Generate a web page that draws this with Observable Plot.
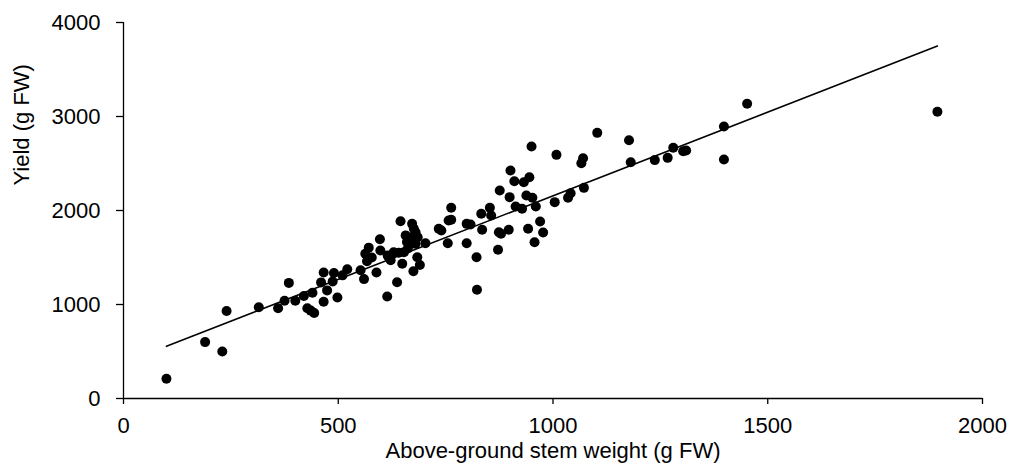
<!DOCTYPE html>
<html>
<head>
<meta charset="utf-8">
<script src="https://cdn.jsdelivr.net/npm/d3@7"></script>
<script src="https://cdn.jsdelivr.net/npm/@observablehq/plot@0.6"></script>
<style>
  html, body { margin: 0; padding: 0; background: #fff; }
  #chart svg { display: block; }
</style>
</head>
<body>
<div id="chart"></div>
<script>
// Above-ground stem weight (g FW) of each plant
const stemWeight = [
  100, 190, 230, 240, 315, 360, 375, 385, 400, 420,
  428, 436, 444, 440, 466, 460, 474, 466, 490, 487,
  498, 510, 521, 552, 560, 563, 567, 571, 578, 589,
  597, 598, 615, 622, 614, 637, 629, 641, 653, 662,
  645, 649, 657, 660, 672, 680, 672, 676, 680, 685,
  684, 690, 675, 703, 734, 740, 755, 757, 763, 763,
  799, 808, 799, 822, 823, 833, 835, 853, 856, 872,
  874, 879, 876, 897, 899, 901, 910, 913, 928, 932,
  945, 938, 952, 942, 957, 960, 970, 977, 1004, 1008,
  1035, 1041, 1066, 1070, 1072, 1103, 1177, 1181, 1237, 1267,
  1280, 1303, 1310, 1398, 1398, 1452, 1895, 950
];

// Yield (g FW) of the same plants
const yieldFW = [
  210, 600, 500, 930, 970, 960, 1040, 1230, 1040, 1090,
  960, 935, 910, 1125, 1030, 1235, 1150, 1340, 1335, 1245,
  1075, 1310, 1375, 1365, 1270, 1540, 1460, 1605, 1500, 1340,
  1695, 1575, 1520, 1470, 1085, 1236, 1555, 1550, 1555, 1595,
  1885, 1433, 1735, 1665, 1716, 1645, 1858, 1805, 1769, 1716,
  1503, 1420, 1354, 1652, 1805, 1787, 1652, 1894, 1901, 2029,
  1858, 1851, 1652, 1503, 1156, 1965, 1795, 2029, 1947, 1582,
  1769, 1752, 2213, 1795, 2142, 2426, 2312, 2043, 2018, 2301,
  2354, 2160, 2135, 1805, 1663, 2043, 1883, 1766, 2089, 2592,
  2135, 2184, 2503, 2556, 2241, 2826, 2748, 2514, 2536, 2560,
  2667, 2631, 2638, 2894, 2543, 3135, 3050, 2680
];

// Linear trend line: [intercept, slope] and the stem-weight span it covers
const trendCoef = [377, 1.78];
const trendSpan = [100, 1895];

const xTicks = [0, 500, 1000, 1500, 2000];
const yTicks = [0, 1000, 2000, 3000, 4000];

const points = stemWeight.map((w, i) => ({w, y: yieldFW[i]}));
const trend = trendSpan.map(w => ({w, y: trendCoef[0] + trendCoef[1] * w}));

const chart = Plot.plot({
  width: 1009,
  height: 471,
  marginLeft: 123,
  marginRight: 27,
  marginTop: 22,
  marginBottom: 73,
  style: {
    fontFamily: "'Liberation Sans', Arial, sans-serif",
    fontSize: "22px",
    color: "#000",
    background: "#fff"
  },
  x: {domain: [0, 2000]},
  y: {domain: [0, 4000]},
  marks: [
    Plot.axisX({ticks: xTicks, tickSize: 6, tickPadding: 13, tickFormat: d => String(d), label: null, strokeWidth: 1.3}),
    Plot.axisY({ticks: yTicks, tickSize: 7, tickPadding: 16, tickFormat: d => String(d), label: null, strokeWidth: 1.3}),
    Plot.ruleX([0], {stroke: "#000", strokeWidth: 1.3}),
    Plot.ruleY([0], {stroke: "#000", strokeWidth: 1.3}),
    Plot.line(trend, {x: "w", y: "y", stroke: "#000", strokeWidth: 1.6}),
    Plot.dot(points, {x: "w", y: "y", r: 5, fill: "#000", stroke: null}),
    Plot.text(["Above-ground stem weight (g FW)"], {
      frameAnchor: "bottom", lineAnchor: "bottom", dy: 59, fill: "#000"
    }),
    Plot.text(["Yield (g FW)"], {
      frameAnchor: "left", rotate: -90, dx: -102, dy: -25, fill: "#000"
    })
  ]
});

document.getElementById("chart").appendChild(chart);
</script>
</body>
</html>
